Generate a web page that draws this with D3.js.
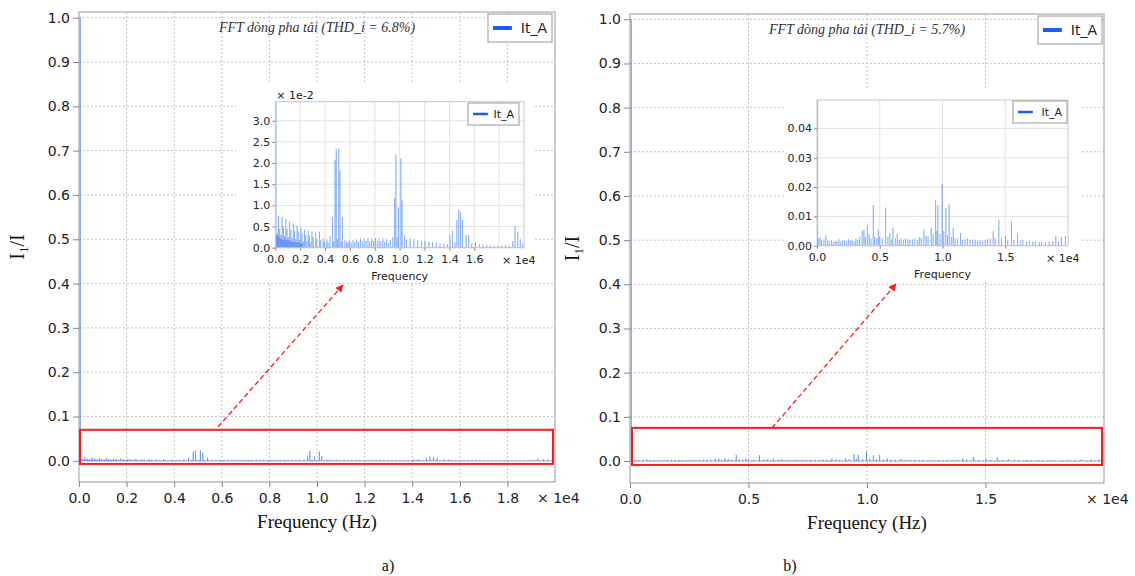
<!DOCTYPE html>
<html>
<head>
<meta charset="utf-8">
<script src="https://cdn.jsdelivr.net/npm/d3@7"></script>
<style>
body{margin:0;background:#fff;}
svg{display:block;}
</style>
</head>
<body>
<svg id="chart" width="1135" height="576"></svg>
<script>
// fundamental (1.0 per unit) and harmonic spikes, amplitude in 1e-2 of fundamental
var fundFreq = 50;

var freqA = [100,150,200,250,300,350,400,450,500,550,600,650,700,750,800,850,900,950,1000,1050,
    1100,1150,1200,1250,1300,1350,1400,1450,1500,1550,1600,1650,1700,1750,1800,1850,1900,1950,2000,2050,
    2100,2150,2200,2250,2350,2450,2550,2650,2750,2850,2950,3050,3250,3350,3550,3650,3850,3950,4150,4250,
    4400,4600,4700,4800,4900,5000,5100,5200,5300,5400,5600,5750,5850,5950,6100,6250,6400,6550,6700,6850,
    7000,7150,7300,7450,7600,7750,7900,8050,8200,8350,8500,8650,8800,8950,9100,9250,9450,9600,9700,9800,
    9900,10100,10200,10400,10550,10850,11150,11450,11750,12050,12350,12650,12950,13250,13550,13850,14050,14250,14450,14600,
    14750,14900,15050,15350,15550,15800,16100,16400,16700,17000,17300,17600,17900,18200,18500,18800,19100,19275,19500,19700,19900];
var ampA = [0.28,0.35,0.30,0.75,0.25,0.45,0.22,0.30,0.20,0.73,0.18,0.50,0.22,0.28,0.18,0.68,0.20,0.45,0.16,0.25,
    0.18,0.62,0.15,0.42,0.16,0.22,0.14,0.57,0.13,0.40,0.14,0.20,0.12,0.52,0.13,0.38,0.11,0.18,0.12,0.48,
    0.10,0.35,0.10,0.16,0.43,0.30,0.15,0.40,0.28,0.12,0.38,0.25,0.36,0.20,0.38,0.18,0.22,0.15,0.20,0.12,
    0.27,0.72,0.15,2.08,2.33,0.20,2.35,1.82,0.15,0.72,0.18,0.15,0.10,0.17,0.12,0.18,0.13,0.20,0.14,0.22,
    0.15,0.22,0.16,0.23,0.15,0.22,0.16,0.23,0.15,0.22,0.15,0.22,0.14,0.20,0.12,0.18,0.25,1.17,2.20,0.25,
    0.95,2.11,1.12,0.30,0.20,0.22,0.20,0.18,0.17,0.16,0.14,0.13,0.12,0.10,0.10,0.08,0.30,0.40,0.12,0.65,
    0.90,0.85,0.65,0.30,0.30,0.10,0.12,0.08,0.07,0.06,0.06,0.05,0.05,0.05,0.06,0.05,0.15,0.50,0.38,0.20,0.10];

var freqB = [100,250,350,550,700,850,1000,1150,1300,1450,1600,1750,1900,2050,2200,2350,2500,2650,2800,2950,
    3100,3250,3400,3600,3740,3850,4006,4150,4300,4483,4600,4750,4881,5000,5200,5466,5650,5812,5950,6051,
    6250,6395,6550,6700,6900,7050,7250,7400,7600,7800,8000,8150,8300,8519,8700,8850,9100,9250,9450,9550,
    9631,9800,9976,10100,10268,10400,10533,10700,10851,11000,11200,11440,11600,11800,12000,12200,12400,12600,12800,13000,
    13200,13400,13600,13800,14036,14200,14490,14700,15020,15200,15498,15700,15976,16200,16400,16700,16900,17200,17400,17700,
    17900,18200,18500,18800,19024,19250,19475,19793];
var ampB = [0.25,0.28,0.20,0.22,0.35,0.18,0.15,0.20,0.12,0.18,0.15,0.22,0.15,0.20,0.18,0.15,0.22,0.18,0.20,0.15,
    0.25,0.20,0.30,0.50,0.54,0.30,0.70,0.40,0.25,1.39,0.30,0.25,0.54,0.30,0.25,1.30,0.30,0.43,0.20,0.60,
    0.25,0.40,0.20,0.25,0.20,0.25,0.22,0.20,0.22,0.25,0.20,0.30,0.28,0.54,0.35,0.30,0.60,0.40,1.55,0.50,
    1.39,0.40,2.12,0.50,1.28,0.35,1.40,0.30,0.60,0.25,0.25,0.43,0.20,0.22,0.25,0.20,0.22,0.20,0.18,0.20,
    0.18,0.20,0.22,0.25,0.49,0.25,0.88,0.25,0.33,0.20,0.82,0.20,0.40,0.18,0.20,0.15,0.18,0.15,0.15,0.12,
    0.15,0.12,0.15,0.15,0.34,0.15,0.30,0.34];

var mainTicksA = [0,2000,4000,6000,8000,10000,12000,14000,16000,18000];
var mainTicksB = [0,5000,10000,15000];
var mainYTicks = [0,0.1,0.2,0.3,0.4,0.5,0.6,0.7,0.8,0.9,1.0];
var insetTicksA = [0,2000,4000,6000,8000,10000,12000,14000,16000];
var insetGridA = [2000,4000,6000,8000,10000,12000,14000,16000,18000];
var insetYTicksA = [0,0.005,0.01,0.015,0.02,0.025,0.03];
var insetTicksB = [0,5000,10000,15000];
var insetYTicksB = [0,0.01,0.02,0.03,0.04];
var titles = ["FFT dòng pha tải (THD_i = 6.8%)", "FFT dòng pha tải (THD_i = 5.7%)"];
var seriesName = "It_A";
var panelTags = ["a)", "b)"];

var svg = d3.select("#chart");
var sans = "DejaVu Sans, Verdana, sans-serif";
var serif = "Liberation Serif, Times New Roman, serif";
var lineColor = "#3d7cf0";

svg.append("rect").attr("width",1135).attr("height",576).attr("fill","#fff");
var defs = svg.append("defs");
defs.append("marker")
    .attr("id","arrowHead")
    .attr("viewBox","0 0 10 10")
    .attr("refX",9).attr("refY",5)
    .attr("markerWidth",6).attr("markerHeight",6)
    .attr("orient","auto")
    .append("path")
    .attr("d","M0,0 L10,5 L0,10 z")
    .attr("fill","#ff1a1a");

/**
 * stem path: baseline with a vertical spike at every harmonic
 */
function spectrumPoints(freqs, amps){
    var pts = freqs.map(function(f,i){ return {f:f, v:amps[i]/100}; });
    pts.push({f:fundFreq, v:1});
    pts.sort(function(a,b){ return a.f-b.f; });
    var out = [{f:0, v:0}];
    pts.forEach(function(p){
        out.push({f:p.f, v:0}, {f:p.f, v:p.v}, {f:p.f, v:0});
    });
    out.push({f:20000, v:0});
    return out;
}

function styleAxis(sel, size){
    sel.select(".domain").remove();
    sel.selectAll(".tick line").attr("stroke","#888");
    sel.selectAll(".tick text")
        .attr("fill","#222")
        .style("font-family",sans)
        .style("font-size",size+"px");
}

function drawLegend(g, x, y, w, h, fs, lw){
    g.append("rect")
        .attr("x",x).attr("y",y).attr("width",w).attr("height",h)
        .attr("fill","#fff").attr("stroke","#999").attr("stroke-width",1);
    g.append("line")
        .attr("x1",x+5).attr("x2",x+5+(fs*1.35))
        .attr("y1",y+h/2).attr("y2",y+h/2)
        .attr("stroke","#1a5cff").attr("stroke-width",lw);
    g.append("text")
        .attr("x",x+w-5).attr("y",y+h/2)
        .attr("dy","0.36em")
        .attr("text-anchor","end")
        .style("font-family",sans).style("font-size",fs+"px")
        .attr("fill","#222")
        .text(seriesName);
}

/**
 * main panel
 */
function drawMain(cfg){
    var g = svg.append("g");
    var x = d3.scaleLinear().domain([0,20000]).range([cfg.left,cfg.right]);
    var y = d3.scaleLinear().domain(cfg.yDomain).range([cfg.bottom,cfg.top]);

    g.selectAll("line.vgrid")
        .data(cfg.xTicks.filter(function(d){ return d>0; }))
        .enter().append("line")
        .attr("x1",function(d){ return x(d); }).attr("x2",function(d){ return x(d); })
        .attr("y1",cfg.top).attr("y2",cfg.bottom)
        .attr("stroke","#c4c4c4").attr("stroke-dasharray","2,2");
    g.selectAll("line.hgrid")
        .data(mainYTicks)
        .enter().append("line")
        .attr("x1",cfg.left).attr("x2",cfg.right)
        .attr("y1",function(d){ return y(d); }).attr("y2",function(d){ return y(d); })
        .attr("stroke","#c4c4c4").attr("stroke-dasharray","2,2");

    g.append("path")
        .datum(cfg.points)
        .attr("d",d3.line().x(function(d){ return x(d.f); }).y(function(d){ return y(d.v); }))
        .attr("fill","none")
        .attr("stroke",lineColor).attr("stroke-opacity",0.55).attr("stroke-width",1);

    g.append("rect")
        .attr("x",cfg.left).attr("y",cfg.top)
        .attr("width",cfg.right-cfg.left).attr("height",cfg.bottom-cfg.top)
        .attr("fill","none").attr("stroke","#9a9a9a");

    var ay = g.append("g")
        .attr("transform","translate("+cfg.left+",0)")
        .call(d3.axisLeft(y).tickValues(mainYTicks).tickSize(6).tickPadding(3).tickFormat(d3.format(".1f")));
    styleAxis(ay,14);
    var ax = g.append("g")
        .attr("transform","translate(0,"+cfg.bottom+")")
        .call(d3.axisBottom(x).tickValues(cfg.xTicks).tickSize(5).tickPadding(6)
            .tickFormat(function(d){ return (d/1e4).toFixed(1); }));
    styleAxis(ax,14);
    g.append("text")
        .attr("x",cfg.right-18).attr("y",cfg.bottom+11)
        .attr("dy","0.71em")
        .style("font-family",sans).style("font-size","14px").attr("fill","#222")
        .text("× 1e4");

    g.append("text")
        .attr("x",(cfg.left+cfg.right)/2).attr("y",cfg.top+20)
        .attr("text-anchor","middle")
        .style("font-family",serif).style("font-style","italic").style("font-size","14px")
        .attr("fill","#333")
        .text(cfg.title);

    drawLegend(g, cfg.legend[0], cfg.legend[1], 64, 28, 14, 4);

    g.append("text")
        .attr("x",(cfg.left+cfg.right)/2).attr("y",cfg.bottom+46)
        .attr("text-anchor","middle")
        .style("font-family",serif).style("font-size","19px").attr("fill","#111")
        .text("Frequency (Hz)");

    var yl = g.append("text")
        .attr("transform","translate("+cfg.yLabelX+","+((cfg.top+cfg.bottom)/2)+") rotate(-90)")
        .attr("text-anchor","middle")
        .style("font-family",serif).style("font-size","20px").attr("fill","#111");
    yl.append("tspan").text("I");
    yl.append("tspan").attr("dy","4").style("font-size","13px").text("1");
    yl.append("tspan").attr("dy","-4").text("/I");

    g.append("text")
        .attr("x",cfg.tagX).attr("y",571)
        .attr("text-anchor","middle")
        .style("font-family",serif).style("font-size","16px").attr("fill","#111")
        .text(cfg.tag);

    // zoom window and arrow
    g.append("rect")
        .attr("x",x(0)+cfg.box[0]).attr("y",y(cfg.box[2]))
        .attr("width",x(20000)-x(0)-cfg.box[0]-cfg.box[1])
        .attr("height",y(cfg.box[3])-y(cfg.box[2]))
        .attr("fill","none").attr("stroke","#ff1a1a").attr("stroke-width",2);
    g.append("line")
        .attr("x1",cfg.arrow[0]).attr("y1",cfg.arrow[1])
        .attr("x2",cfg.arrow[2]).attr("y2",cfg.arrow[3])
        .attr("stroke","#ff1a1a").attr("stroke-width",1.3)
        .attr("stroke-dasharray","5,3")
        .attr("marker-end","url(#arrowHead)");
}

/**
 * magnified inset
 */
function drawInset(cfg){
    var g = svg.append("g");
    var x = d3.scaleLinear().domain([0,20000]).range([cfg.left,cfg.right]);
    var y = d3.scaleLinear().domain(cfg.yDomain).range([cfg.bottom,cfg.top]);

    g.append("rect")
        .attr("x",cfg.bg[0]).attr("y",cfg.bg[1])
        .attr("width",cfg.bg[2]-cfg.bg[0]).attr("height",cfg.bg[3]-cfg.bg[1])
        .attr("fill","#fff");

    defs.append("clipPath").attr("id",cfg.id)
        .append("rect")
        .attr("x",cfg.left).attr("y",cfg.top)
        .attr("width",cfg.right-cfg.left).attr("height",cfg.bottom-cfg.top);

    g.selectAll("line.vgrid")
        .data(cfg.xGrid)
        .enter().append("line")
        .attr("x1",function(d){ return x(d); }).attr("x2",function(d){ return x(d); })
        .attr("y1",cfg.top).attr("y2",cfg.bottom)
        .attr("stroke","#e2e2e2");
    g.selectAll("line.hgrid")
        .data(cfg.yTicks)
        .enter().append("line")
        .attr("x1",cfg.left).attr("x2",cfg.right)
        .attr("y1",function(d){ return y(d); }).attr("y2",function(d){ return y(d); })
        .attr("stroke","#e2e2e2");

    g.append("path")
        .datum(cfg.points)
        .attr("clip-path","url(#"+cfg.id+")")
        .attr("d",d3.line().x(function(d){ return x(d.f); }).y(function(d){ return y(d.v); }))
        .attr("fill","none")
        .attr("stroke",lineColor).attr("stroke-opacity",0.38).attr("stroke-width",1);

    g.append("rect")
        .attr("x",cfg.left).attr("y",cfg.top)
        .attr("width",cfg.right-cfg.left).attr("height",cfg.bottom-cfg.top)
        .attr("fill","none").attr("stroke","#c8c8c8");

    var ay = g.append("g")
        .attr("transform","translate("+cfg.left+",0)")
        .call(d3.axisLeft(y).tickValues(cfg.yTicks).tickSize(3).tickPadding(2).tickFormat(cfg.yFmt));
    styleAxis(ay,11);
    var ax = g.append("g")
        .attr("transform","translate(0,"+cfg.bottom+")")
        .call(d3.axisBottom(x).tickValues(cfg.xTicks).tickSize(3).tickPadding(5)
            .tickFormat(function(d){ return (d/1e4).toFixed(1); }));
    styleAxis(ax,11);
    g.append("text")
        .attr("x",cfg.right-22).attr("y",cfg.bottom+8)
        .attr("dy","0.71em")
        .style("font-family",sans).style("font-size","11px").attr("fill","#222")
        .text("× 1e4");
    g.append("text")
        .attr("x",(cfg.left+cfg.right)/2).attr("y",cfg.bottom+32)
        .attr("text-anchor","middle")
        .style("font-family",sans).style("font-size","11px").attr("fill","#222")
        .text("Frequency");
    if(cfg.yMult){
        g.append("text")
            .attr("x",cfg.left+1).attr("y",cfg.top-3)
            .style("font-family",sans).style("font-size","11px").attr("fill","#222")
            .text(cfg.yMult);
    }
    drawLegend(g, cfg.legend[0], cfg.legend[1], cfg.legend[2], 22, 11, 2.5);
}

var pointsA = spectrumPoints(freqA, ampA);
var pointsB = spectrumPoints(freqB, ampB);

drawMain({
    left:79, right:555, top:12, bottom:482,
    yDomain:[-0.0478, 1.0129],
    xTicks:mainTicksA, points:pointsA, title:titles[0],
    legend:[488,14], yLabelX:24, tagX:388, tag:panelTags[0],
    box:[1,2,0.070,-0.007], arrow:[218,427,343,285]
});
drawMain({
    left:630, right:1104, top:14, bottom:483,
    yDomain:[-0.0498, 1.012],
    xTicks:mainTicksB, points:pointsB, title:titles[1],
    legend:[1038,16], yLabelX:579, tagX:790, tag:panelTags[1],
    box:[2,2,0.075,-0.009], arrow:[772,428,896,284]
});

drawInset({
    id:"clipA", left:275.3, right:524, top:101.7, bottom:247.7,
    bg:[236,82,533,282],
    yDomain:[0,0.0345], yTicks:insetYTicksA,
    yFmt:function(d){ return (d*100).toFixed(1); },
    xTicks:insetTicksA, xGrid:insetGridA, points:pointsA,
    yMult:"× 1e-2", legend:[468,103,51]
});
drawInset({
    id:"clipB", left:817, right:1068, top:100, bottom:245.7,
    bg:[784,88,1080,282],
    yDomain:[0,0.0497], yTicks:insetYTicksB,
    yFmt:d3.format(".2f"),
    xTicks:insetTicksB, xGrid:[5000,10000,15000], points:pointsB,
    yMult:null, legend:[1013,101,54]
});
</script>
</body>
</html>
